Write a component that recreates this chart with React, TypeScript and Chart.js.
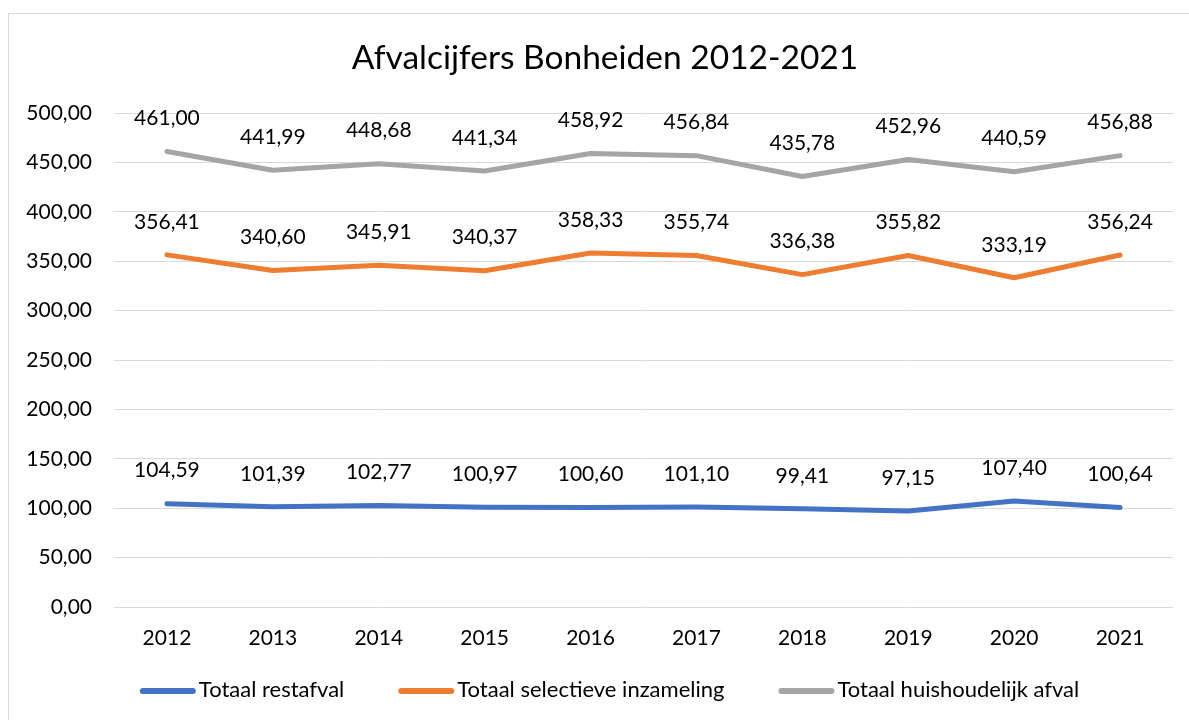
import React, { useEffect, useRef } from 'react';
import { Chart, registerables } from 'chart.js';

Chart.register(...registerables);

const years = ['2012', '2013', '2014', '2015', '2016', '2017', '2018', '2019', '2020', '2021'];
const restafval = [104.59, 101.39, 102.77, 100.97, 100.6, 101.1, 99.41, 97.15, 107.4, 100.64];
const selectieve = [356.41, 340.6, 345.91, 340.37, 358.33, 355.74, 336.38, 355.82, 333.19, 356.24];
const huishoudelijk = [461.0, 441.99, 448.68, 441.34, 458.92, 456.84, 435.78, 452.96, 440.59, 456.88];
const seriesNames = ['Totaal restafval', 'Totaal selectieve inzameling', 'Totaal huishoudelijk afval'];
const seriesColors = ['#4472C4', '#ED7D31', '#A5A5A5'];
const titleText = 'Afvalcijfers Bonheiden 2012-2021';
const yMin = 0;
const yMax = 500;
const yStep = 50;

const FONT = 'Lato, "Open Sans", sans-serif';
const fmt = (v: number) => v.toFixed(2).replace('.', ',');

const framePlugin = {
  id: 'frame',
  beforeDraw(chart: any) {
    const ctx = chart.ctx;
    ctx.save();
    ctx.fillStyle = '#ffffff';
    ctx.fillRect(0, 0, chart.width, chart.height);
    ctx.strokeStyle = '#d9d9d9';
    ctx.lineWidth = 1;
    ctx.strokeRect(8.5, 13.5, 1400, 1000);
    ctx.restore();
  },
};

const titlePlugin = {
  id: 'customTitle',
  afterDraw(chart: any) {
    const ctx = chart.ctx;
    ctx.save();
    ctx.font = `33.5px ${FONT}`;
    ctx.fillStyle = '#000000';
    ctx.textAlign = 'center';
    ctx.textBaseline = 'middle';
    ctx.fillText(titleText, 605, 58);
    ctx.restore();
  },
};

const valueLabelPlugin = {
  id: 'valueLabels',
  afterDatasetsDraw(chart: any) {
    const ctx = chart.ctx;
    ctx.save();
    ctx.font = `21px ${FONT}`;
    ctx.fillStyle = '#000000';
    ctx.textAlign = 'center';
    ctx.textBaseline = 'middle';
    chart.data.datasets.forEach((ds: any, i: number) => {
      const meta = chart.getDatasetMeta(i);
      meta.data.forEach((pt: any, j: number) => {
        ctx.fillText(fmt(ds.data[j]), pt.x, pt.y - 33);
      });
    });
    ctx.restore();
  },
};

const legendPlugin = {
  id: 'customLegend',
  afterDraw(chart: any) {
    const ctx = chart.ctx;
    ctx.save();
    ctx.font = `22px ${FONT}`;
    const lineLen = 56;
    const gap = 3;
    const spacing = 54;
    const widths = seriesNames.map((n) => ctx.measureText(n).width);
    const total = widths.reduce((a, w) => a + lineLen + gap + w, 0) + spacing * (seriesNames.length - 1);
    let x = 609.5 - total / 2;
    const y = 690;
    seriesNames.forEach((name, i) => {
      ctx.strokeStyle = seriesColors[i];
      ctx.lineWidth = 6;
      ctx.lineCap = 'round';
      ctx.beginPath();
      ctx.moveTo(x + 3, y + 1);
      ctx.lineTo(x + lineLen - 3, y + 1);
      ctx.stroke();
      ctx.fillStyle = '#000000';
      ctx.textAlign = 'left';
      ctx.textBaseline = 'middle';
      ctx.fillText(name, x + lineLen + gap, y);
      x += lineLen + gap + widths[i] + spacing;
    });
    ctx.restore();
  },
};

export default function App() {
  const canvasRef = useRef<HTMLCanvasElement | null>(null);

  useEffect(() => {
    let chart: Chart | null = null;
    let cancelled = false;
    const build = () => {
      if (cancelled || !canvasRef.current) return;
      const seriesData = [restafval, selectieve, huishoudelijk];
      chart = new Chart(canvasRef.current, {
        type: 'line',
        data: {
          labels: years,
          datasets: seriesNames.map((name, i) => ({
            label: name,
            data: seriesData[i],
            borderColor: seriesColors[i],
            backgroundColor: seriesColors[i],
            borderWidth: 5,
            pointRadius: 0,
            tension: 0,
            borderCapStyle: 'round' as const,
            borderJoinStyle: 'round' as const,
          })),
        },
        options: {
          responsive: false,
          animation: false,
          layout: { padding: { left: 0, right: 16, top: 113, bottom: 53 } },
          plugins: {
            legend: { display: false },
            title: { display: false },
            tooltip: { enabled: false },
          },
          scales: {
            x: {
              offset: true,
              grid: { display: false, drawTicks: false },
              border: { display: false },
              ticks: { color: '#000000', font: { family: FONT, size: 21 }, padding: 19, maxRotation: 0 },
              afterFit(axis: any) {
                axis.height = 60;
              },
            },
            y: {
              min: yMin,
              max: yMax,
              grid: { color: '#d9d9d9', lineWidth: 1, drawTicks: false },
              border: { display: false },
              ticks: {
                stepSize: yStep,
                color: '#000000',
                font: { family: FONT, size: 21 },
                padding: 22,
                callback: (v: any) => fmt(Number(v)),
              },
              afterFit(axis: any) {
                axis.width = 114;
              },
            },
          },
        },
        plugins: [framePlugin, titlePlugin, valueLabelPlugin, legendPlugin],
      });
    };
    if ((document as any).fonts && (document as any).fonts.load) {
      Promise.all([
        (document as any).fonts.load(`21px Lato`),
        (document as any).fonts.load(`33px Lato`),
      ]).then(build, build);
    } else {
      build();
    }
    return () => {
      cancelled = true;
      if (chart) chart.destroy();
    };
  }, []);

  return (
    <div style={{ position: 'absolute', left: 0, top: 0, width: 1189, height: 720, background: '#fff' }}>
      <canvas ref={canvasRef} width={1189} height={720} style={{ display: 'block', width: 1189, height: 720 }} />
    </div>
  );
}
